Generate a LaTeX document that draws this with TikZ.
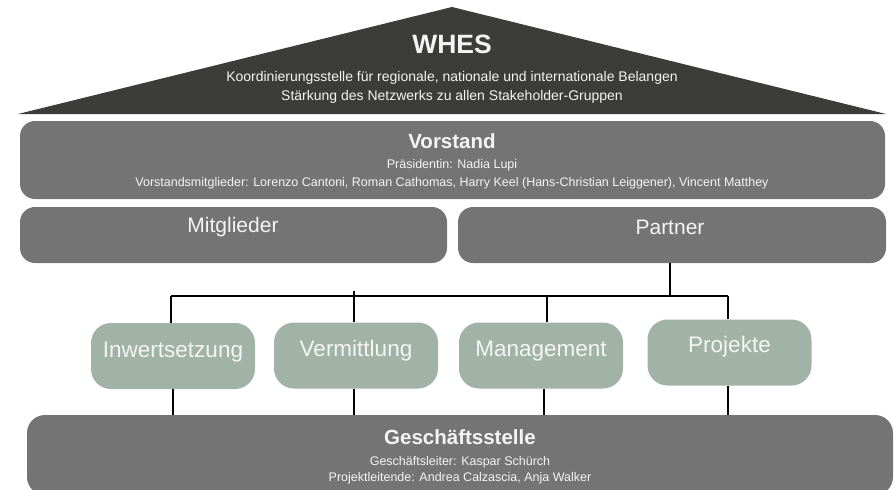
\documentclass[tikz,border=0pt]{standalone}
\usepackage{fontspec}
\setmainfont{Liberation Sans}
\definecolor{roof}{HTML}{3C3C3B}
\definecolor{greybox}{HTML}{737473}
\definecolor{greenbox}{HTML}{A0B3A6}
\definecolor{lighttext}{HTML}{F4F4F4}
\tikzset{
  greyfill/.style={fill=greybox, draw=none, rounded corners=15pt, inner sep=0pt},
  greenfill/.style={fill=greenbox, draw=none, rounded corners=20pt, inner sep=0pt, minimum width=164pt, minimum height=66pt},
  titletext/.style={text=lighttext, font=\bfseries\fontsize{20.5}{24}\selectfont, inner sep=0pt},
  smalltext/.style={text=lighttext, font=\fontsize{12.5}{15}\selectfont, inner sep=0pt},
  rooftext/.style={text=lighttext, font=\fontsize{14}{17}\selectfont, inner sep=0pt},
  midtext/.style={text=lighttext, font=\fontsize{21}{25}\selectfont, inner sep=0pt},
  greentext/.style={text=lighttext, font=\fontsize{22.5}{26}\selectfont, inner sep=0pt},
  conn/.style={draw=black, line width=1.2pt}
}
\begin{document}
\begin{tikzpicture}[x=1pt,y=-1pt]
\useasboundingbox (0,0) rectangle (895,490);
\clip (0,0) rectangle (895,490);
% roof
\path[fill=roof] (18,114) -- (452,7) -- (886,114) -- cycle;
\node[text=lighttext, font=\bfseries\fontsize{26.5}{30}\selectfont, inner sep=0pt] (whes) at (452,44) {WHES};
\node[rooftext] (whes1) at (452,78) {Koordinierungsstelle für regionale, nationale und internationale Belangen};
\node[rooftext] (whes2) at (452,97) {Stärkung des Netzwerks zu allen Stakeholder-Gruppen};
% Vorstand
\node[greyfill, minimum width=865pt, minimum height=78pt] (vorstand) at (452.5,160) {};
\node[titletext] (vt) at (452,141) {Vorstand};
\node[smalltext] (v1) at (452,165) {Präsidentin: Nadia Lupi};
\node[smalltext] (v2) at (452,183) {Vorstandsmitglieder: Lorenzo Cantoni, Roman Cathomas, Harry Keel (Hans-Christian Leiggener), Vincent Matthey};
% Mitglieder / Partner
\node[greyfill, minimum width=427pt, minimum height=56pt] (mitglieder) at (233.5,235) {};
\node[midtext] (mt) at (233,227) {Mitglieder};
\node[greyfill, minimum width=428pt, minimum height=56pt] (partner) at (672,235) {};
\node[midtext] (pt) at (670,227) {Partner};
% green boxes
\node[greenfill] (inw) at (173,356) {};
\node[greentext] (inwt) at (173,352) {Inwertsetzung};
\node[greenfill] (ver) at (356,355.5) {};
\node[greentext] (vert) at (356,351) {Vermittlung};
\node[greenfill] (man) at (541,355.5) {};
\node[greentext] (mant) at (541,351) {Management};
\node[greenfill] (pro) at (729.5,352.5) {};
\node[greentext] (prot) at (729.5,347) {Projekte};
% Geschaeftsstelle
\node[greyfill, rounded corners=18pt, minimum width=866pt, minimum height=80pt] (gs) at (460,455) {};
\node[titletext] (gst) at (460,437) {Geschäftsstelle};
\node[smalltext] (g1) at (460,462) {Geschäftsleiter: Kaspar Schürch};
\node[smalltext] (g2) at (460,478) {Projektleitende: Andrea Calzascia, Anja Walker};
% connectors
\coordinate (busL) at (171,296);
\coordinate (busR) at (728,296);
\coordinate (pdrop) at (670,263);
\draw[conn] (busL) -- (busR);
\draw[conn] (pdrop) -- (pdrop |- busL);
\draw[conn] (inw.north -| busL) -- (busL);
\draw[conn] (ver.north -| 354,0) -- (354,291);
\draw[conn] (man.north -| 547,0) -- (547,296);
\draw[conn] (pro.north -| busR) -- (busR);
\draw[conn] (inw.south) -- (inw.south |- gs.north);
\draw[conn] (ver.south -| 354,0) -- (354,415);
\draw[conn] (man.south -| 544,0) -- (544,415);
\draw[conn] (pro.south -| busR) -- (busR |- gs.north);
\end{tikzpicture}
\end{document}
